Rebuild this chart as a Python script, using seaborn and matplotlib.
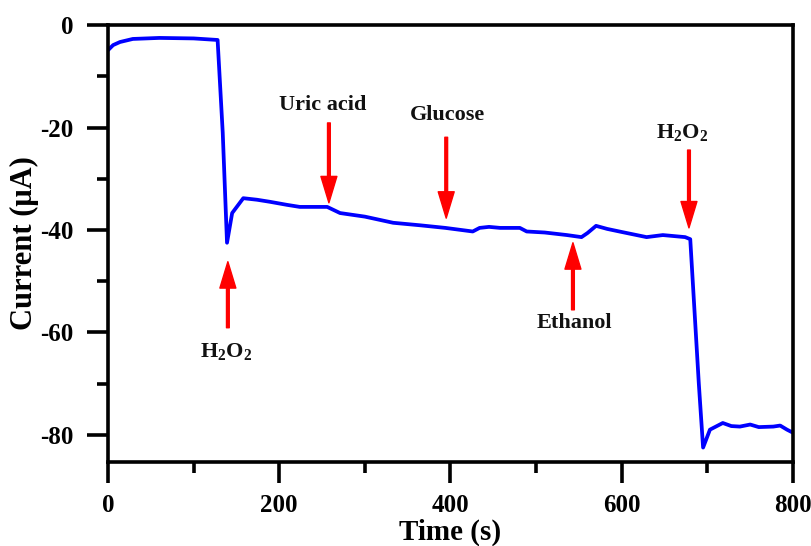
import matplotlib
matplotlib.use("Agg")
import matplotlib.pyplot as plt
import seaborn as sns
import pandas as pd
from matplotlib.ticker import MultipleLocator

# ---- data ----
time_s = [0, 6, 14, 29, 60, 100, 128, 134, 139, 145, 158, 174, 189, 209, 224,
          256, 271, 300, 333, 365, 394, 426, 434, 445, 458, 481, 489, 510, 536,
          553, 560, 570, 583, 600, 629, 648, 674, 680, 690, 695, 703, 718, 728,
          738, 750, 760, 777, 785, 793, 800]
current_uA = [-4.9, -3.9, -3.3, -2.7, -2.5, -2.6, -2.9, -21.0, -42.5, -36.7,
              -33.8, -34.1, -34.5, -35.1, -35.5, -35.5, -36.7, -37.4, -38.6,
              -39.1, -39.6, -40.3, -39.6, -39.4, -39.6, -39.6, -40.3, -40.5,
              -41.0, -41.4, -40.6, -39.2, -39.8, -40.4, -41.4, -41.0, -41.4,
              -41.8, -70.0, -82.5, -79.0, -77.7, -78.3, -78.4, -78.0, -78.5,
              -78.4, -78.2, -79.0, -79.6]

xticks = [0, 200, 400, 600, 800]
yticks = [0, -20, -40, -60, -80]

# annotations: (label, text x, text y, arrow tail x, tail y, head x, head y)
ann_labels = ["Uric acid", "Glucose", r"$\mathbf{H_2O_2}$", r"$\mathbf{H_2O_2}$", "Ethanol"]
ann_text_x = [251, 397, 670, 138, 545]
ann_text_y = [-15.6, -17.6, -21.0, -63.8, -58.1]
ann_tail_x = [258, 395, 678.5, 140, 543]
ann_tail_y = [-19.1, -21.9, -24.4, -59.1, -55.6]
ann_head_x = [258, 395, 678.5, 140, 543]
ann_head_y = [-34.7, -37.7, -39.6, -46.2, -42.5]

# ---- style ----
sns.set_style("ticks")
plt.rcParams["font.family"] = ["Liberation Serif", "DejaVu Serif"]
plt.rcParams["font.weight"] = "bold"
plt.rcParams["axes.labelweight"] = "bold"
plt.rcParams["axes.unicode_minus"] = False
plt.rcParams["text.color"] = "black"
plt.rcParams["axes.labelcolor"] = "black"
plt.rcParams["xtick.color"] = "black"
plt.rcParams["ytick.color"] = "black"
plt.rcParams["mathtext.fontset"] = "custom"
plt.rcParams["mathtext.rm"] = "Liberation Serif:bold"
plt.rcParams["mathtext.bf"] = "Liberation Serif:bold"
plt.rcParams["mathtext.it"] = "Liberation Serif:bold"

fig = plt.figure(figsize=(8.12, 5.46), dpi=100)
ax = fig.add_axes([0.133, 0.154, 0.8436, 0.8])

df = pd.DataFrame({"Time (s)": time_s, "Current (μA)": current_uA})
sns.lineplot(data=df, x="Time (s)", y="Current (μA)", sort=False,
             estimator=None, color="#0000ff", lw=2.7, ax=ax)

ax.set_xlim(0, 800)
ax.set_ylim(-85.3, 0)
ax.set_xticks(xticks)
ax.set_yticks(yticks)
ax.xaxis.set_minor_locator(MultipleLocator(100))
ax.yaxis.set_minor_locator(MultipleLocator(10))

for s in ax.spines.values():
    s.set_visible(True)
    s.set_linewidth(2.6)
    s.set_color("black")

ax.tick_params(which="major", direction="out", length=15, width=2.6,
               labelsize=18, pad=8, colors="black")
ax.tick_params(axis="y", which="major", pad=10)
ax.tick_params(which="minor", direction="out", length=8, width=2.6)
for lab in ax.get_xticklabels() + ax.get_yticklabels():
    lab.set_fontweight("bold")

ax.set_xlabel("Time (s)", fontsize=21, fontweight="bold", labelpad=1)
ax.set_ylabel("Current (μA)", fontsize=22, fontweight="bold", labelpad=1)

for lab, tx, ty, ax0, ay0, hx, hy in zip(ann_labels, ann_text_x, ann_text_y,
                                         ann_tail_x, ann_tail_y,
                                         ann_head_x, ann_head_y):
    ax.annotate("", xy=(hx, hy), xytext=(ax0, ay0),
                arrowprops=dict(facecolor="red", edgecolor="red", width=2.0,
                                headwidth=11.5, headlength=19, shrink=0))
    ax.text(tx, ty, lab, ha="center", va="center", fontsize=16,
            fontweight="bold", color="#111111")

fig.savefig("out.png", dpi=100)
